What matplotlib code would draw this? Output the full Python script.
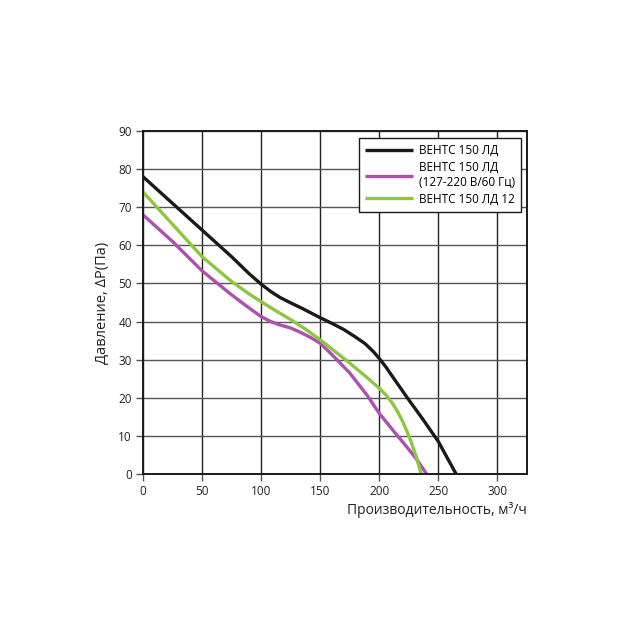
import matplotlib
matplotlib.use("Agg")
import matplotlib.pyplot as plt

# curves
black_x = [0, 25, 50, 75, 90, 100, 108, 116, 125, 135, 145, 150, 160, 170, 180, 188, 195, 200,
           206, 212, 223, 237, 250, 265]
black_y = [78, 71, 64, 57, 52.5, 49.8, 47.9, 46.3, 44.9, 43.4, 41.8, 41, 39.5, 37.9, 35.9, 34.2,
           32.1, 30.3, 27.9, 25.2, 20.3, 14.3, 8.5, 0]

green_x = [0, 25, 50, 75, 90, 100, 112, 125, 138, 150, 175, 190, 200, 206, 211, 215, 219,
           223, 227, 231, 235.5]
green_y = [74, 65.5, 57, 50.5, 47.2, 45.2, 42.9, 40.5, 37.9, 35.2, 29.1, 25.2, 22.5, 20.6,
           18.6, 16.6, 14.3, 11.5, 8.4, 4.8, 0]

mag_x = [0, 25, 50, 75, 90, 100, 108, 116, 125, 133, 142, 150, 160, 175, 190, 200, 212, 223,
         232, 240]
mag_y = [68, 61, 53.3, 47, 43.5, 41.3, 40.0, 39.1, 38.3, 37.2, 35.8, 34.3, 31.3, 26.5, 20.5,
         15.9, 11.3, 7.2, 3.7, 0]

labels = ["ВЕНТС 150 ЛД", "ВЕНТС 150 ЛД\n(127-220 В/60 Гц)", "ВЕНТС 150 ЛД 12"]
colors = ["#1a1a1a", "#b04fae", "#8dc63f"]

plt.rcParams["font.family"] = ["Open Sans", "DejaVu Sans"]

fig = plt.figure(figsize=(6.4, 6.4), dpi=100)
ax = fig.add_axes([0.2234, 0.2594, 0.6, 0.536])

ax.plot(black_x, black_y, color=colors[0], lw=2.4, label=labels[0], solid_capstyle="butt")
ax.plot(mag_x, mag_y, color=colors[1], lw=2.4, label=labels[1], solid_capstyle="butt")
ax.plot(green_x, green_y, color=colors[2], lw=2.4, label=labels[2], solid_capstyle="butt")

ax.set_xlim(0, 325)
ax.set_ylim(0, 90)
ax.set_xticks(range(0, 301, 50))
ax.set_yticks(range(0, 91, 10))
ax.grid(True, axis="x", color="#222222", lw=1.0)
ax.grid(True, axis="y", color="#555555", lw=1.0)
ax.set_axisbelow(True)
for s in ax.spines.values():
    s.set_color("#1a1a1a")
    s.set_linewidth(1.4)
ax.tick_params(direction="out", length=5, width=1, color="#555555",
               labelsize=8.5, labelcolor="#222222", pad=3)

ax.set_ylabel("Давление, ΔP(Па)", fontsize=10.5, color="#222222", labelpad=6)
ax.set_xlabel("Производительность, м³/ч", fontsize=10, color="#222222")
ax.xaxis.set_label_coords(1.0, -0.082)
ax.xaxis.label.set_horizontalalignment("right")

leg = ax.legend(loc="upper right", bbox_to_anchor=(0.985, 0.98), fontsize=8.5,
                handlelength=4.0, frameon=True, fancybox=False, borderpad=0.55,
                labelspacing=0.3, handletextpad=0.5, borderaxespad=0)
leg.get_frame().set_edgecolor("#1a1a1a")
leg.get_frame().set_linewidth(1.0)
leg.get_frame().set_alpha(1)

fig.savefig("out.png", dpi=100)
